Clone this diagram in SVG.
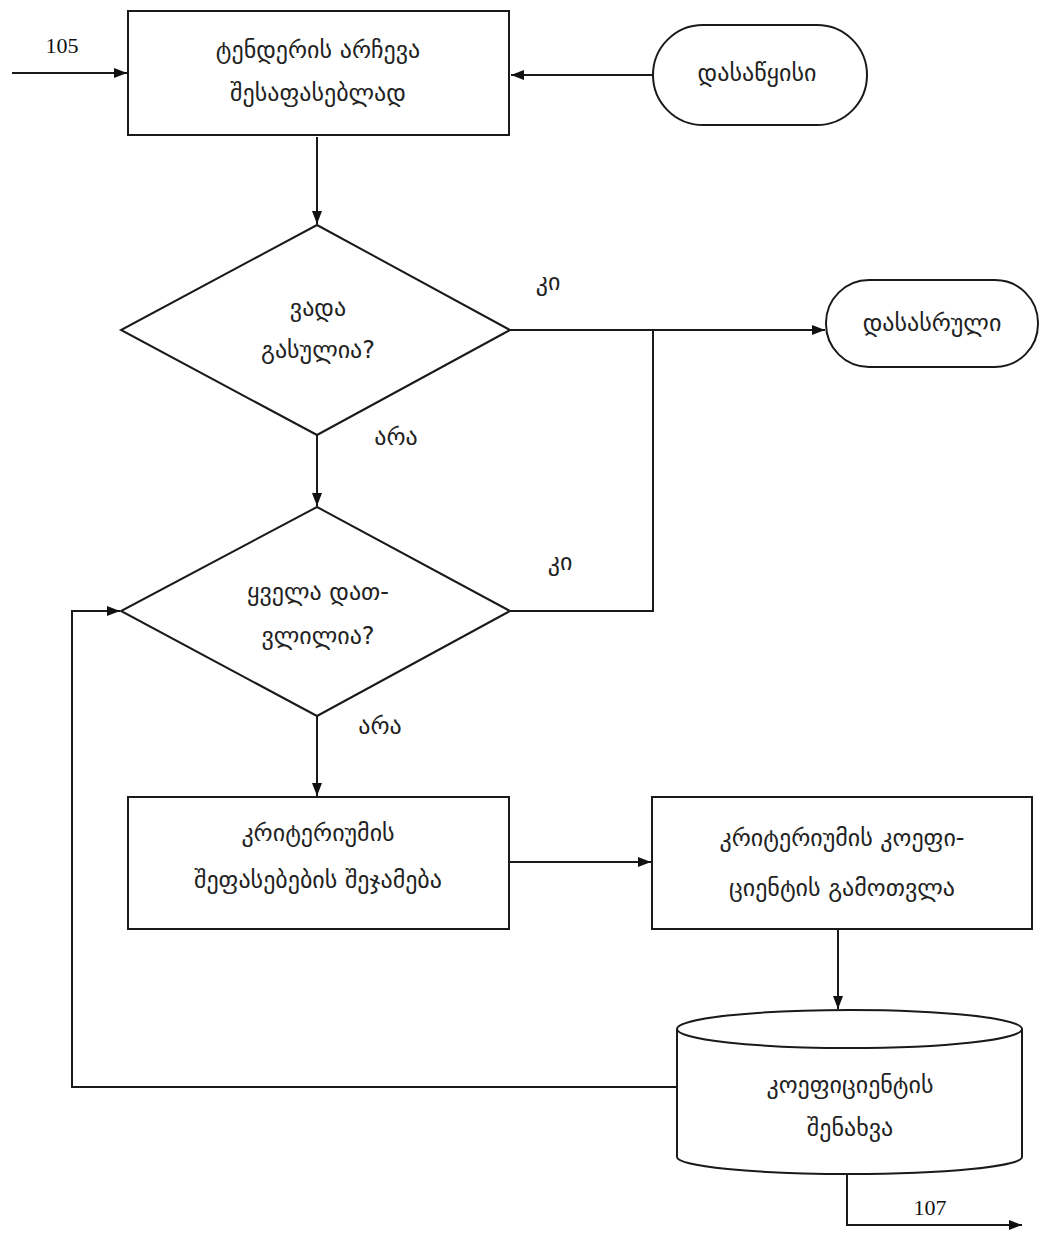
<svg xmlns="http://www.w3.org/2000/svg" width="1040" height="1236" viewBox="0 0 1040 1236">
<style>
.s{fill:#fff;stroke:#1a1a1a;stroke-width:2}
.c{fill:none;stroke:#1a1a1a;stroke-width:2}
.t{font-family:"DejaVu Sans","Noto Sans",sans-serif;font-size:24px;fill:#222;text-anchor:middle}
.n{font-family:"Liberation Serif",serif;font-size:22px;fill:#111;text-anchor:middle}
</style>
<defs>
<marker id="a" markerWidth="13" markerHeight="10" refX="13" refY="5" orient="auto" markerUnits="userSpaceOnUse">
<path d="M0,0 L13,5 L0,10 Z" fill="#111"/>
</marker>
</defs>
<rect width="1040" height="1236" fill="#fff"/>
<g id="connectors">
<path class="c" d="M12,73 H127" marker-end="url(#a)"/>
<path class="c" d="M653,75 H511" marker-end="url(#a)"/>
<path class="c" d="M317,137 V224" marker-end="url(#a)"/>
<path class="c" d="M510,330 H825" marker-end="url(#a)"/>
<path class="c" d="M653,330 V611 H510"/>
<path class="c" d="M317,435 V506" marker-end="url(#a)"/>
<path class="c" d="M317,716 V796" marker-end="url(#a)"/>
<path class="c" d="M509,862 H651" marker-end="url(#a)"/>
<path class="c" d="M838,929 V1009" marker-end="url(#a)"/>
<path class="c" d="M677,1087 H72 V611 H120" marker-end="url(#a)"/>
<path class="c" d="M847,1174 V1225 H1022" marker-end="url(#a)"/>
<text class="n" x="62" y="53">105</text>
<text class="n" x="930" y="1215">107</text>
<text class="t" x="548" y="290">კი</text>
<text class="t" x="396" y="445">არა</text>
<text class="t" x="560" y="570">კი</text>
<text class="t" x="380" y="734">არა</text>
</g>
<g id="select">
<rect class="s" x="128" y="11" width="381" height="124"/>
<text class="t" x="318" y="58">ტენდერის არჩევა</text>
<text class="t" x="318" y="101">შესაფასებლად</text>
</g>
<g id="start">
<rect class="s" x="653" y="25" width="214" height="100" rx="50" ry="50"/>
<text class="t" x="757" y="81">დასაწყისი</text>
</g>
<g id="expired">
<path class="s" d="M317,225 L510,330 L317,435 L121,330 Z"/>
<text class="t" x="318" y="316">ვადა</text>
<text class="t" x="318" y="358">გასულია?</text>
</g>
<g id="end">
<rect class="s" x="826" y="280" width="212" height="87" rx="43" ry="43"/>
<text class="t" x="932" y="331">დასასრული</text>
</g>
<g id="allEvaluated">
<path class="s" d="M317,507 L510,611 L317,716 L121,611 Z"/>
<text class="t" x="318" y="600">ყველა დათ-</text>
<text class="t" x="318" y="644">ვლილია?</text>
</g>
<g id="sum">
<rect class="s" x="128" y="797" width="381" height="132"/>
<text class="t" x="318" y="841">კრიტერიუმის</text>
<text class="t" x="318" y="888">შეფასებების შეჯამება</text>
</g>
<g id="calc">
<rect class="s" x="652" y="797" width="380" height="132"/>
<text class="t" x="842" y="846">კრიტერიუმის კოეფი-</text>
<text class="t" x="842" y="896">ციენტის გამოთვლა</text>
</g>
<g id="store">
<path class="s" d="M677,1029 V1157 A172,17 0 0 0 1022,1157 V1029"/>
<ellipse class="s" cx="849.5" cy="1029" rx="172.5" ry="19"/>
<text class="t" x="850" y="1093">კოეფიციენტის</text>
<text class="t" x="850" y="1136">შენახვა</text>
</g>
</svg>
